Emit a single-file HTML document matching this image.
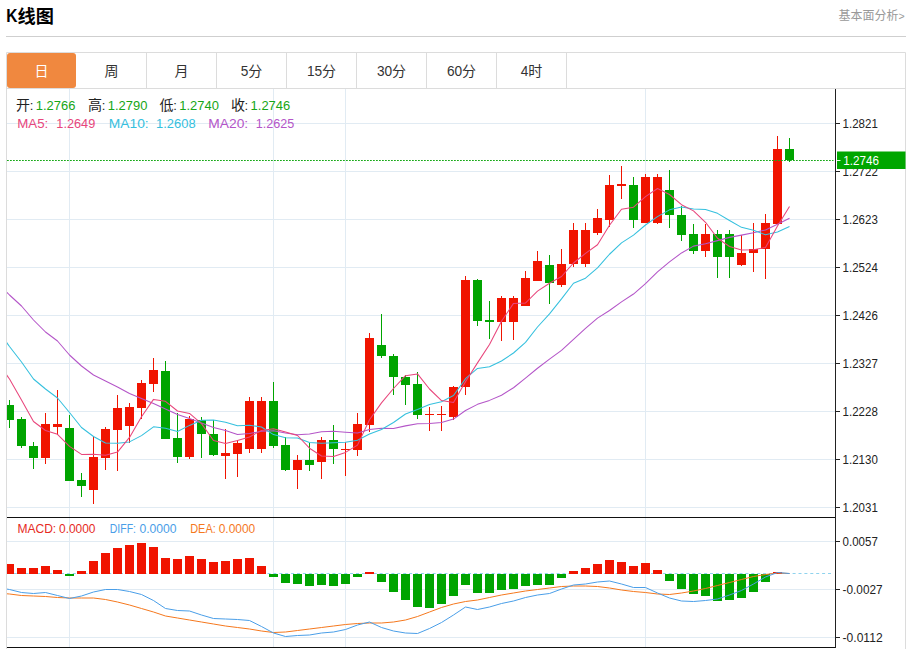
<!DOCTYPE html>
<html><head><meta charset="utf-8"><title>K</title>
<style>html,body{margin:0;padding:0;background:#fff;}svg{display:block;}text{font-family:"Liberation Sans", "Noto Sans CJK SC", sans-serif;}</style></head><body>
<svg width="912" height="649" viewBox="0 0 912 649">
<rect width="912" height="649" fill="#fff"/>
<text x="6.3" y="22" font-size="17.5" font-weight="bold" fill="#000" textLength="11.2" lengthAdjust="spacingAndGlyphs">K</text>
<text x="17.5" y="22.5" font-size="18.2" font-weight="bold" fill="#000">线图</text>
<text x="838.5" y="19.5" font-size="12" fill="#999">基本面分析</text>
<text x="898.5" y="19.5" font-size="10.5" fill="#999">&gt;</text>
<rect x="6" y="36" width="900" height="1" fill="#cfcfcf"/>
<path d="M6.5 649V52.5H905.5V649" fill="none" stroke="#dcdcdc" stroke-width="1"/>
<rect x="7" y="88" width="898" height="1" fill="#dcdcdc"/>
<rect x="7" y="53" width="69" height="35" rx="3" fill="#f0883f"/>
<rect x="146" y="53" width="1" height="35" fill="#dcdcdc"/>
<rect x="216" y="53" width="1" height="35" fill="#dcdcdc"/>
<rect x="286" y="53" width="1" height="35" fill="#dcdcdc"/>
<rect x="356" y="53" width="1" height="35" fill="#dcdcdc"/>
<rect x="426" y="53" width="1" height="35" fill="#dcdcdc"/>
<rect x="496" y="53" width="1" height="35" fill="#dcdcdc"/>
<rect x="566" y="53" width="1" height="35" fill="#dcdcdc"/>
<text x="34.5" y="76" font-size="14" fill="#fff">日</text>
<text x="104.5" y="76" font-size="14" fill="#333">周</text>
<text x="174.5" y="76" font-size="14" fill="#333">月</text>
<text x="240.7" y="76" font-size="14" fill="#333" textLength="7.6" lengthAdjust="spacingAndGlyphs">5</text>
<text x="248.3" y="76" font-size="14" fill="#333">分</text>
<text x="306.9" y="76" font-size="14" fill="#333" textLength="15.2" lengthAdjust="spacingAndGlyphs">15</text>
<text x="322.1" y="76" font-size="14" fill="#333">分</text>
<text x="376.9" y="76" font-size="14" fill="#333" textLength="15.2" lengthAdjust="spacingAndGlyphs">30</text>
<text x="392.1" y="76" font-size="14" fill="#333">分</text>
<text x="446.9" y="76" font-size="14" fill="#333" textLength="15.2" lengthAdjust="spacingAndGlyphs">60</text>
<text x="462.1" y="76" font-size="14" fill="#333">分</text>
<text x="520.7" y="76" font-size="14" fill="#333" textLength="7.6" lengthAdjust="spacingAndGlyphs">4</text>
<text x="528.3" y="76" font-size="14" fill="#333">时</text>
<defs><clipPath id="cm"><rect x="7" y="89" width="828" height="428"/></clipPath><clipPath id="cs"><rect x="7" y="518" width="828" height="129.5"/></clipPath></defs>
<rect x="7" y="123" width="828" height="1" fill="#e1ebf3"/>
<rect x="7" y="171" width="828" height="1" fill="#e1ebf3"/>
<rect x="7" y="219" width="828" height="1" fill="#e1ebf3"/>
<rect x="7" y="267" width="828" height="1" fill="#e1ebf3"/>
<rect x="7" y="315" width="828" height="1" fill="#e1ebf3"/>
<rect x="7" y="363" width="828" height="1" fill="#e1ebf3"/>
<rect x="7" y="411" width="828" height="1" fill="#e1ebf3"/>
<rect x="7" y="459" width="828" height="1" fill="#e1ebf3"/>
<rect x="7" y="507" width="828" height="1" fill="#e1ebf3"/>
<rect x="7" y="541" width="828" height="1" fill="#e1ebf3"/>
<rect x="7" y="589" width="828" height="1" fill="#e1ebf3"/>
<rect x="7" y="637" width="828" height="1" fill="#e1ebf3"/>
<rect x="69" y="89" width="1" height="559" fill="#e1ebf3"/>
<rect x="273" y="89" width="1" height="559" fill="#e1ebf3"/>
<rect x="345" y="89" width="1" height="559" fill="#e1ebf3"/>
<rect x="645" y="89" width="1" height="559" fill="#e1ebf3"/>
<line x1="831" y1="573.5" x2="7" y2="573.5" stroke="#8fd3ee" stroke-width="1" stroke-dasharray="3 2.9"/>
<text x="16.1" y="110" font-size="14" fill="#222">开</text>
<text x="29.7" y="109.7" font-size="13" fill="#222">:</text>
<text x="35.8" y="109.7" font-size="13" fill="#16a616" textLength="39.6" lengthAdjust="spacingAndGlyphs">1.2766</text>
<text x="88.1" y="110" font-size="14" fill="#222">高</text>
<text x="101.7" y="109.7" font-size="13" fill="#222">:</text>
<text x="107.8" y="109.7" font-size="13" fill="#16a616" textLength="39.6" lengthAdjust="spacingAndGlyphs">1.2790</text>
<text x="159.6" y="110" font-size="14" fill="#222">低</text>
<text x="173.2" y="109.7" font-size="13" fill="#222">:</text>
<text x="179.3" y="109.7" font-size="13" fill="#16a616" textLength="39.6" lengthAdjust="spacingAndGlyphs">1.2740</text>
<text x="230.9" y="110" font-size="14" fill="#222">收</text>
<text x="244.5" y="109.7" font-size="13" fill="#222">:</text>
<text x="250.6" y="109.7" font-size="13" fill="#16a616" textLength="39.6" lengthAdjust="spacingAndGlyphs">1.2746</text>
<text x="17.3" y="127.7" font-size="13" fill="#e8467c" textLength="31" lengthAdjust="spacingAndGlyphs">MA5:</text>
<text x="56.3" y="127.7" font-size="13" fill="#e8467c" textLength="39" lengthAdjust="spacingAndGlyphs">1.2649</text>
<text x="108.8" y="127.7" font-size="13" fill="#35c0de" textLength="39.9" lengthAdjust="spacingAndGlyphs">MA10:</text>
<text x="156.1" y="127.7" font-size="13" fill="#35c0de" textLength="39.5" lengthAdjust="spacingAndGlyphs">1.2608</text>
<text x="208.3" y="127.7" font-size="13" fill="#b455c8" textLength="39.9" lengthAdjust="spacingAndGlyphs">MA20:</text>
<text x="255.7" y="127.7" font-size="13" fill="#b455c8" textLength="38.6" lengthAdjust="spacingAndGlyphs">1.2625</text>
<g clip-path="url(#cm)" shape-rendering="crispEdges">
<rect x="9" y="400" width="1" height="28" fill="#00a400"/>
<rect x="5" y="405" width="9" height="15" fill="#00a400"/>
<rect x="21" y="417" width="1" height="31" fill="#00a400"/>
<rect x="17" y="419" width="9" height="27" fill="#00a400"/>
<rect x="33" y="442" width="1" height="26.5" fill="#00a400"/>
<rect x="29" y="446" width="9" height="11.5" fill="#00a400"/>
<rect x="45" y="413" width="1" height="50.5" fill="#f01400"/>
<rect x="41" y="424" width="9" height="33.5" fill="#f01400"/>
<rect x="57" y="390" width="1" height="44.5" fill="#f01400"/>
<rect x="53" y="424" width="9" height="2.5" fill="#f01400"/>
<rect x="69" y="415" width="1" height="65.5" fill="#00a400"/>
<rect x="65" y="428" width="9" height="52.5" fill="#00a400"/>
<rect x="81" y="472.5" width="1" height="24.5" fill="#00a400"/>
<rect x="77" y="480" width="9" height="6" fill="#00a400"/>
<rect x="93" y="436" width="1" height="68" fill="#f01400"/>
<rect x="89" y="457" width="9" height="33" fill="#f01400"/>
<rect x="105" y="427" width="1" height="43" fill="#f01400"/>
<rect x="101" y="429" width="9" height="29" fill="#f01400"/>
<rect x="117" y="395" width="1" height="76" fill="#f01400"/>
<rect x="113" y="408" width="9" height="22" fill="#f01400"/>
<rect x="129" y="403" width="1" height="40" fill="#f01400"/>
<rect x="125" y="407" width="9" height="18.5" fill="#f01400"/>
<rect x="141" y="380" width="1" height="39" fill="#f01400"/>
<rect x="137" y="383" width="9" height="24.5" fill="#f01400"/>
<rect x="153" y="358" width="1" height="34" fill="#f01400"/>
<rect x="149" y="370" width="9" height="13.5" fill="#f01400"/>
<rect x="165" y="361" width="1" height="77.5" fill="#00a400"/>
<rect x="161" y="370.5" width="9" height="68" fill="#00a400"/>
<rect x="177" y="412.5" width="1" height="50.5" fill="#00a400"/>
<rect x="173" y="437.5" width="9" height="19" fill="#00a400"/>
<rect x="189" y="415.5" width="1" height="43" fill="#f01400"/>
<rect x="185" y="419" width="9" height="37.5" fill="#f01400"/>
<rect x="201" y="416.5" width="1" height="41.5" fill="#00a400"/>
<rect x="197" y="420" width="9" height="14" fill="#00a400"/>
<rect x="213" y="420" width="1" height="36" fill="#00a400"/>
<rect x="209" y="433.5" width="9" height="21" fill="#00a400"/>
<rect x="225" y="429" width="1" height="49.5" fill="#f01400"/>
<rect x="221" y="453" width="9" height="2.5" fill="#f01400"/>
<rect x="237" y="439.5" width="1" height="37.5" fill="#f01400"/>
<rect x="233" y="442.5" width="9" height="11" fill="#f01400"/>
<rect x="249" y="396.5" width="1" height="56" fill="#f01400"/>
<rect x="245" y="401" width="9" height="48" fill="#f01400"/>
<rect x="261" y="396.5" width="1" height="56" fill="#f01400"/>
<rect x="257" y="401" width="9" height="48" fill="#f01400"/>
<rect x="273" y="382" width="1" height="66" fill="#00a400"/>
<rect x="269" y="401" width="9" height="45" fill="#00a400"/>
<rect x="285" y="437" width="1" height="34" fill="#00a400"/>
<rect x="281" y="444.5" width="9" height="25" fill="#00a400"/>
<rect x="297" y="454.5" width="1" height="34" fill="#f01400"/>
<rect x="293" y="460" width="9" height="9.5" fill="#f01400"/>
<rect x="309" y="442.5" width="1" height="28.5" fill="#00a400"/>
<rect x="305" y="460" width="9" height="4.5" fill="#00a400"/>
<rect x="321" y="437" width="1" height="41.5" fill="#f01400"/>
<rect x="317" y="440" width="9" height="21.5" fill="#f01400"/>
<rect x="333" y="424.5" width="1" height="39.5" fill="#00a400"/>
<rect x="329" y="440" width="9" height="9" fill="#00a400"/>
<rect x="345" y="442" width="1" height="34" fill="#f01400"/>
<rect x="341" y="448.5" width="9" height="1.5" fill="#f01400"/>
<rect x="357" y="412.5" width="1" height="43.5" fill="#f01400"/>
<rect x="353" y="423.5" width="9" height="26.5" fill="#f01400"/>
<rect x="369" y="333" width="1" height="99" fill="#f01400"/>
<rect x="365" y="338" width="9" height="86.5" fill="#f01400"/>
<rect x="381" y="314" width="1" height="43.5" fill="#00a400"/>
<rect x="377" y="345" width="9" height="10.5" fill="#00a400"/>
<rect x="393" y="353.5" width="1" height="41" fill="#00a400"/>
<rect x="389" y="355.5" width="9" height="21.5" fill="#00a400"/>
<rect x="405" y="375" width="1" height="29.5" fill="#00a400"/>
<rect x="401" y="376.5" width="9" height="8" fill="#00a400"/>
<rect x="417" y="372" width="1" height="46.5" fill="#00a400"/>
<rect x="413" y="384" width="9" height="30.5" fill="#00a400"/>
<rect x="429" y="406.5" width="1" height="24.5" fill="#f01400"/>
<rect x="425" y="413.5" width="9" height="1.5" fill="#f01400"/>
<rect x="441" y="406" width="1" height="25" fill="#f01400"/>
<rect x="437" y="413.5" width="9" height="1.5" fill="#f01400"/>
<rect x="453" y="386" width="1" height="33.5" fill="#f01400"/>
<rect x="449" y="387" width="9" height="30" fill="#f01400"/>
<rect x="465" y="276" width="1" height="119" fill="#f01400"/>
<rect x="461" y="280" width="9" height="107" fill="#f01400"/>
<rect x="477" y="279" width="1" height="46.5" fill="#00a400"/>
<rect x="473" y="280" width="9" height="40.5" fill="#00a400"/>
<rect x="489" y="300.5" width="1" height="38.5" fill="#00a400"/>
<rect x="485" y="319.5" width="9" height="2" fill="#00a400"/>
<rect x="501" y="295.5" width="1" height="45" fill="#f01400"/>
<rect x="497" y="297.5" width="9" height="24" fill="#f01400"/>
<rect x="513" y="295.5" width="1" height="44.5" fill="#f01400"/>
<rect x="509" y="297.5" width="9" height="24" fill="#f01400"/>
<rect x="525" y="270.5" width="1" height="35" fill="#f01400"/>
<rect x="521" y="278" width="9" height="27.5" fill="#f01400"/>
<rect x="537" y="250.5" width="1" height="30" fill="#f01400"/>
<rect x="533" y="261" width="9" height="19.5" fill="#f01400"/>
<rect x="549" y="255" width="1" height="48.5" fill="#00a400"/>
<rect x="545" y="265" width="9" height="17.5" fill="#00a400"/>
<rect x="561" y="248.5" width="1" height="38" fill="#f01400"/>
<rect x="557" y="263.5" width="9" height="21" fill="#f01400"/>
<rect x="573" y="223" width="1" height="44" fill="#f01400"/>
<rect x="569" y="230" width="9" height="34" fill="#f01400"/>
<rect x="585" y="223" width="1" height="44" fill="#f01400"/>
<rect x="581" y="230" width="9" height="34" fill="#f01400"/>
<rect x="597" y="209" width="1" height="25.5" fill="#f01400"/>
<rect x="593" y="217.5" width="9" height="15" fill="#f01400"/>
<rect x="609" y="174.5" width="1" height="52.5" fill="#f01400"/>
<rect x="605" y="185" width="9" height="34.5" fill="#f01400"/>
<rect x="621" y="165.5" width="1" height="33" fill="#f01400"/>
<rect x="617" y="184" width="9" height="2" fill="#f01400"/>
<rect x="633" y="176.5" width="1" height="51.5" fill="#00a400"/>
<rect x="629" y="185" width="9" height="34.5" fill="#00a400"/>
<rect x="645" y="174" width="1" height="48.5" fill="#f01400"/>
<rect x="641" y="177" width="9" height="45.5" fill="#f01400"/>
<rect x="657" y="174" width="1" height="50" fill="#f01400"/>
<rect x="653" y="177" width="9" height="45.5" fill="#f01400"/>
<rect x="669" y="170" width="1" height="58" fill="#00a400"/>
<rect x="665" y="190" width="9" height="25" fill="#00a400"/>
<rect x="681" y="206" width="1" height="35" fill="#00a400"/>
<rect x="677" y="214.5" width="9" height="20.5" fill="#00a400"/>
<rect x="693" y="224" width="1" height="29.5" fill="#00a400"/>
<rect x="689" y="234" width="9" height="16.5" fill="#00a400"/>
<rect x="705" y="224" width="1" height="33" fill="#f01400"/>
<rect x="701" y="234" width="9" height="16.5" fill="#f01400"/>
<rect x="717" y="230" width="1" height="47.5" fill="#00a400"/>
<rect x="713" y="234" width="9" height="22.5" fill="#00a400"/>
<rect x="729" y="230" width="1" height="47.5" fill="#00a400"/>
<rect x="725" y="234" width="9" height="22.5" fill="#00a400"/>
<rect x="741" y="235" width="1" height="31" fill="#f01400"/>
<rect x="737" y="252.5" width="9" height="12" fill="#f01400"/>
<rect x="753" y="223" width="1" height="48.5" fill="#f01400"/>
<rect x="749" y="249" width="9" height="4" fill="#f01400"/>
<rect x="765" y="213.5" width="1" height="65" fill="#f01400"/>
<rect x="761" y="222.5" width="9" height="26.5" fill="#f01400"/>
<rect x="777" y="136" width="1" height="88" fill="#f01400"/>
<rect x="773" y="149.2" width="9" height="74.8" fill="#f01400"/>
<rect x="789" y="138" width="1" height="24" fill="#00a400"/>
<rect x="785" y="149.2" width="9" height="10.3" fill="#00a400"/>
</g>
<polyline clip-path="url(#cm)" points="-2.5,283 9.5,295 21.5,306 33.5,320 45.5,332 57.5,341 69.5,355 81.5,366 93.5,375 105.5,381 117.5,387 129.5,393.5 141.5,398.5 153.5,403.5 165.5,409 177.5,414.5 189.5,418.5 201.5,423 213.5,427.5 225.5,430.5 237.5,434.5 249.5,433.55 261.5,431.3 273.5,430.73 285.5,433 297.5,434.8 309.5,434 321.5,431.7 333.5,431.3 345.5,432.27 357.5,433.05 369.5,429.6 381.5,428.23 393.5,428.57 405.5,425.88 417.5,423.77 429.5,423.5 441.5,422.48 453.5,419.1 465.5,410.45 477.5,404.35 489.5,400.38 501.5,395.2 513.5,387.77 525.5,378.2 537.5,368.25 549.5,359.15 561.5,350.32 573.5,339.38 585.5,328.45 597.5,318.15 609.5,310.5 621.5,301.93 633.5,294.05 645.5,283.68 657.5,271.8 669.5,261.88 681.5,252.95 693.5,246.12 705.5,243.82 717.5,240.62 729.5,237.38 741.5,235.12 753.5,232.7 765.5,229.93 777.5,224.33 789.5,218.19" fill="none" stroke="#b455c8" stroke-width="1.05" stroke-linejoin="round"/>
<polyline clip-path="url(#cm)" points="-2.5,329.7 9.5,346.5 21.5,362 33.5,379 45.5,389 57.5,398 69.5,412.5 81.5,427.5 93.5,436.5 105.5,443 117.5,443.2 129.5,441.9 141.5,435.6 153.5,426.85 165.5,428.3 177.5,431.55 189.5,425.4 201.5,420.2 213.5,419.95 225.5,422.35 237.5,425.8 249.5,425.2 261.5,427 273.5,434.6 285.5,437.7 297.5,438.05 309.5,442.6 321.5,443.2 333.5,442.65 345.5,442.2 357.5,440.3 369.5,434 381.5,429.45 393.5,422.55 405.5,414.05 417.5,409.5 429.5,404.4 441.5,401.75 453.5,395.55 465.5,378.7 477.5,368.4 489.5,366.75 501.5,360.95 513.5,353 525.5,342.35 537.5,327 549.5,313.9 561.5,298.9 573.5,283.2 585.5,278.2 597.5,267.9 609.5,254.25 621.5,242.9 633.5,235.1 645.5,225 657.5,216.6 669.5,209.85 681.5,207 693.5,209.05 705.5,209.45 717.5,213.35 729.5,220.5 741.5,227.35 753.5,230.3 765.5,234.85 777.5,232.07 789.5,226.52" fill="none" stroke="#35c0de" stroke-width="1.05" stroke-linejoin="round"/>
<polyline clip-path="url(#cm)" points="-2.5,362.2 9.5,379 21.5,400 33.5,421.5 45.5,430.5 57.5,434.3 69.5,446.4 81.5,454.4 93.5,454.3 105.5,455.3 117.5,452.1 129.5,437.4 141.5,416.8 153.5,399.4 165.5,401.3 177.5,411 189.5,413.4 201.5,423.6 213.5,440.5 225.5,443.4 237.5,440.6 249.5,437 261.5,430.4 273.5,428.7 285.5,432 297.5,435.5 309.5,448.2 321.5,456 333.5,456.6 345.5,452.4 357.5,445.1 369.5,419.8 381.5,402.9 393.5,388.5 405.5,375.7 417.5,373.9 429.5,389 441.5,400.6 453.5,402.6 465.5,381.7 477.5,362.9 489.5,344.5 501.5,321.3 513.5,303.4 525.5,303 537.5,291.1 549.5,283.3 561.5,276.5 573.5,263 585.5,253.4 597.5,244.7 609.5,225.2 621.5,209.3 633.5,207.2 645.5,196.6 657.5,188.5 669.5,194.5 681.5,204.7 693.5,210.9 705.5,222.3 717.5,238.2 729.5,246.5 741.5,250 753.5,249.7 765.5,247.4 777.5,225.94 789.5,206.54" fill="none" stroke="#e8467c" stroke-width="1.05" stroke-linejoin="round"/>
<line x1="7" y1="160.5" x2="833.5" y2="160.5" stroke="#18aa18" stroke-width="1" stroke-dasharray="1.8 1.2"/>
<rect x="7" y="517" width="829" height="1" fill="#111"/>
<rect x="7" y="647" width="829" height="1" fill="#111"/>
<g clip-path="url(#cs)" shape-rendering="crispEdges">
<rect x="5" y="563.5" width="9" height="10" fill="#f01400"/>
<rect x="17" y="568" width="9" height="5.5" fill="#f01400"/>
<rect x="29" y="568" width="9" height="5.5" fill="#f01400"/>
<rect x="41" y="566" width="9" height="7.5" fill="#f01400"/>
<rect x="53" y="569.5" width="9" height="4" fill="#f01400"/>
<rect x="65" y="573.5" width="9" height="2" fill="#00a400"/>
<rect x="77" y="570.5" width="9" height="3" fill="#f01400"/>
<rect x="89" y="561" width="9" height="12.5" fill="#f01400"/>
<rect x="101" y="553" width="9" height="20.5" fill="#f01400"/>
<rect x="113" y="547.5" width="9" height="26" fill="#f01400"/>
<rect x="125" y="545" width="9" height="28.5" fill="#f01400"/>
<rect x="137" y="543" width="9" height="30.5" fill="#f01400"/>
<rect x="149" y="547" width="9" height="26.5" fill="#f01400"/>
<rect x="161" y="557.5" width="9" height="16" fill="#f01400"/>
<rect x="173" y="558.5" width="9" height="15" fill="#f01400"/>
<rect x="185" y="555.5" width="9" height="18" fill="#f01400"/>
<rect x="197" y="559" width="9" height="14.5" fill="#f01400"/>
<rect x="209" y="562" width="9" height="11.5" fill="#f01400"/>
<rect x="221" y="561" width="9" height="12.5" fill="#f01400"/>
<rect x="233" y="559" width="9" height="14.5" fill="#f01400"/>
<rect x="245" y="557.5" width="9" height="16" fill="#f01400"/>
<rect x="257" y="565.5" width="9" height="8" fill="#f01400"/>
<rect x="269" y="573.5" width="9" height="3.5" fill="#00a400"/>
<rect x="281" y="573.5" width="9" height="9.5" fill="#00a400"/>
<rect x="293" y="573.5" width="9" height="10.5" fill="#00a400"/>
<rect x="305" y="573.5" width="9" height="12" fill="#00a400"/>
<rect x="317" y="573.5" width="9" height="11" fill="#00a400"/>
<rect x="329" y="573.5" width="9" height="12" fill="#00a400"/>
<rect x="341" y="573.5" width="9" height="10" fill="#00a400"/>
<rect x="353" y="573.5" width="9" height="3.5" fill="#00a400"/>
<rect x="365" y="571.5" width="9" height="2" fill="#f01400"/>
<rect x="377" y="573.5" width="9" height="8.5" fill="#00a400"/>
<rect x="389" y="573.5" width="9" height="18" fill="#00a400"/>
<rect x="401" y="573.5" width="9" height="26" fill="#00a400"/>
<rect x="413" y="573.5" width="9" height="33.5" fill="#00a400"/>
<rect x="425" y="573.5" width="9" height="34" fill="#00a400"/>
<rect x="437" y="573.5" width="9" height="30.75" fill="#00a400"/>
<rect x="449" y="573.5" width="9" height="22" fill="#00a400"/>
<rect x="461" y="573.5" width="9" height="11.5" fill="#00a400"/>
<rect x="473" y="573.5" width="9" height="19" fill="#00a400"/>
<rect x="485" y="573.5" width="9" height="19" fill="#00a400"/>
<rect x="497" y="573.5" width="9" height="16.5" fill="#00a400"/>
<rect x="509" y="573.5" width="9" height="15.5" fill="#00a400"/>
<rect x="521" y="573.5" width="9" height="12.5" fill="#00a400"/>
<rect x="533" y="573.5" width="9" height="11" fill="#00a400"/>
<rect x="545" y="573.5" width="9" height="11" fill="#00a400"/>
<rect x="557" y="573.5" width="9" height="4" fill="#00a400"/>
<rect x="569" y="571" width="9" height="2.5" fill="#f01400"/>
<rect x="581" y="568" width="9" height="5.5" fill="#f01400"/>
<rect x="593" y="563.5" width="9" height="10" fill="#f01400"/>
<rect x="605" y="559.5" width="9" height="14" fill="#f01400"/>
<rect x="617" y="561.5" width="9" height="12" fill="#f01400"/>
<rect x="629" y="565.5" width="9" height="8" fill="#f01400"/>
<rect x="641" y="563" width="9" height="10.5" fill="#f01400"/>
<rect x="653" y="570" width="9" height="3.5" fill="#f01400"/>
<rect x="665" y="573.5" width="9" height="7.5" fill="#00a400"/>
<rect x="677" y="573.5" width="9" height="15" fill="#00a400"/>
<rect x="689" y="573.5" width="9" height="20" fill="#00a400"/>
<rect x="701" y="573.5" width="9" height="22" fill="#00a400"/>
<rect x="713" y="573.5" width="9" height="27" fill="#00a400"/>
<rect x="725" y="573.5" width="9" height="26.5" fill="#00a400"/>
<rect x="737" y="573.5" width="9" height="24" fill="#00a400"/>
<rect x="749" y="573.5" width="9" height="18.5" fill="#00a400"/>
<rect x="761" y="573.5" width="9" height="8.5" fill="#00a400"/>
<rect x="773" y="572" width="9" height="1.5" fill="#f01400"/>
</g>
<polyline clip-path="url(#cs)" points="-2.5,593 9.5,594 21.5,595.5 33.5,596 45.5,596.5 57.5,597.5 69.5,598 81.5,598 93.5,598 105.5,599.5 117.5,602 129.5,605 141.5,608.5 153.5,612 165.5,616 177.5,618 189.5,620 201.5,622 213.5,624 225.5,626 237.5,627.5 249.5,629 261.5,631 273.5,632.5 285.5,632 297.5,630.5 309.5,629 321.5,627.5 333.5,626 345.5,624.5 357.5,623.5 369.5,623 381.5,623 393.5,622 405.5,620 417.5,616.5 429.5,612 441.5,607.5 453.5,604 465.5,601.5 477.5,600 489.5,597.5 501.5,595 513.5,593 525.5,591 537.5,589.5 549.5,588 561.5,586.5 573.5,586 585.5,586 597.5,586.5 609.5,588 621.5,590 633.5,591.5 645.5,592.5 657.5,594 669.5,594.5 681.5,593 693.5,591 705.5,588.5 717.5,585.5 729.5,582.5 741.5,579.5 753.5,576.5 765.5,574.5 777.5,573 789.5,573.5" fill="none" stroke="#f5781e" stroke-width="1.0" stroke-linejoin="round"/>
<polyline clip-path="url(#cs)" points="-2.5,587.5 9.5,589.5 21.5,592.5 33.5,593.5 45.5,592.5 57.5,595.5 69.5,598.5 81.5,596 93.5,592 105.5,589.5 117.5,589.5 129.5,591.5 141.5,594.5 153.5,600.5 165.5,608.5 177.5,610.5 189.5,611 201.5,615 213.5,618.5 225.5,619 237.5,619.5 249.5,620.5 261.5,626.5 273.5,633 285.5,636.5 297.5,635.5 309.5,635 321.5,633 333.5,632 345.5,629.5 357.5,625 369.5,622 381.5,627.5 393.5,631 405.5,633 417.5,633.5 429.5,628.5 441.5,622.5 453.5,615 465.5,607 477.5,609.5 489.5,607 501.5,603.5 513.5,601 525.5,597.5 537.5,595 549.5,593.5 561.5,589 573.5,585 585.5,584 597.5,582 609.5,581 621.5,584 633.5,587.5 645.5,587.5 657.5,593 669.5,598 681.5,601 693.5,601.5 705.5,600.5 717.5,599 729.5,595 741.5,590.5 753.5,584 765.5,577 777.5,572.5 789.5,573.5" fill="none" stroke="#4a9ee8" stroke-width="1.0" stroke-linejoin="round"/>
<text x="17.4" y="532.5" font-size="12" fill="#e62a1e" textLength="38.8" lengthAdjust="spacingAndGlyphs">MACD:</text>
<text x="59" y="532.5" font-size="12" fill="#e62a1e" textLength="36.5" lengthAdjust="spacingAndGlyphs">0.0000</text>
<text x="109.8" y="532.5" font-size="12" fill="#4a9ee8" textLength="26.2" lengthAdjust="spacingAndGlyphs">DIFF:</text>
<text x="139.4" y="532.5" font-size="12" fill="#4a9ee8" textLength="37.1" lengthAdjust="spacingAndGlyphs">0.0000</text>
<text x="190.2" y="532.5" font-size="12" fill="#f5781e" textLength="25.6" lengthAdjust="spacingAndGlyphs">DEA:</text>
<text x="218.7" y="532.5" font-size="12" fill="#f5781e" textLength="36.5" lengthAdjust="spacingAndGlyphs">0.0000</text>
<rect x="835" y="89" width="1" height="559" fill="#222"/>
<rect x="836" y="123" width="4" height="1" fill="#222"/>
<text x="842.6" y="128.1" font-size="13" fill="#222" textLength="35.2" lengthAdjust="spacingAndGlyphs">1.2821</text>
<rect x="836" y="171" width="4" height="1" fill="#222"/>
<text x="842.6" y="176.1" font-size="13" fill="#222" textLength="35.2" lengthAdjust="spacingAndGlyphs">1.2722</text>
<rect x="836" y="219" width="4" height="1" fill="#222"/>
<text x="842.6" y="224.1" font-size="13" fill="#222" textLength="35.2" lengthAdjust="spacingAndGlyphs">1.2623</text>
<rect x="836" y="267" width="4" height="1" fill="#222"/>
<text x="842.6" y="272.1" font-size="13" fill="#222" textLength="35.2" lengthAdjust="spacingAndGlyphs">1.2524</text>
<rect x="836" y="315" width="4" height="1" fill="#222"/>
<text x="842.6" y="320.1" font-size="13" fill="#222" textLength="35.2" lengthAdjust="spacingAndGlyphs">1.2426</text>
<rect x="836" y="363" width="4" height="1" fill="#222"/>
<text x="842.6" y="368.1" font-size="13" fill="#222" textLength="35.2" lengthAdjust="spacingAndGlyphs">1.2327</text>
<rect x="836" y="411" width="4" height="1" fill="#222"/>
<text x="842.6" y="416.1" font-size="13" fill="#222" textLength="35.2" lengthAdjust="spacingAndGlyphs">1.2228</text>
<rect x="836" y="459" width="4" height="1" fill="#222"/>
<text x="842.6" y="464.1" font-size="13" fill="#222" textLength="35.2" lengthAdjust="spacingAndGlyphs">1.2130</text>
<rect x="836" y="507" width="4" height="1" fill="#222"/>
<text x="842.6" y="512.1" font-size="13" fill="#222" textLength="35.2" lengthAdjust="spacingAndGlyphs">1.2031</text>
<rect x="836" y="541" width="4" height="1" fill="#222"/>
<text x="842.6" y="546.1" font-size="13" fill="#222" textLength="35.2" lengthAdjust="spacingAndGlyphs">0.0057</text>
<rect x="836" y="589" width="4" height="1" fill="#222"/>
<text x="842.6" y="594.1" font-size="13" fill="#222" textLength="40" lengthAdjust="spacingAndGlyphs">-0.0027</text>
<rect x="836" y="637" width="4" height="1" fill="#222"/>
<text x="842.6" y="642.1" font-size="13" fill="#222" textLength="40" lengthAdjust="spacingAndGlyphs">-0.0112</text>
<rect x="837" y="151.5" width="68.5" height="17.5" fill="#00a600"/>
<rect x="837" y="160" width="3.5" height="1" fill="#e8ffe8"/>
<text x="843.3" y="164.8" font-size="13" fill="#fff" textLength="35.6" lengthAdjust="spacingAndGlyphs">1.2746</text>
</svg></body></html>
